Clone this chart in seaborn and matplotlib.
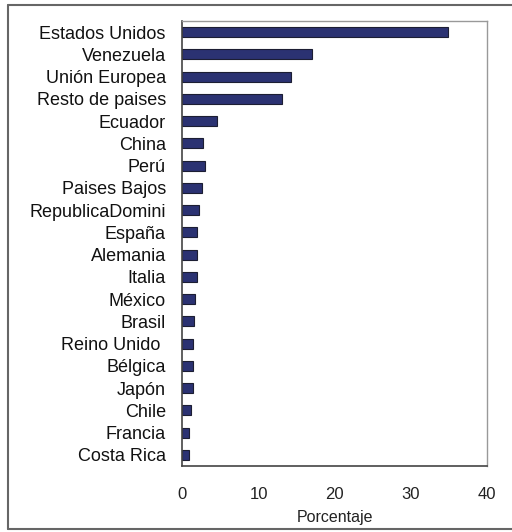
import matplotlib
matplotlib.use("Agg")
import matplotlib.pyplot as plt
from matplotlib.lines import Line2D
import seaborn as sns
import pandas as pd

paises = [
    "Estados Unidos", "Venezuela", "Unión Europea", "Resto de paises", "Ecuador",
    "China", "Perú", "Paises Bajos", "RepublicaDomini", "España",
    "Alemania", "Italia", "México", "Brasil", "Reino Unido ",
    "Bélgica", "Japón", "Chile", "Francia", "Costa Rica",
]
porcentaje = [
    34.9, 17.0, 14.2, 13.1, 4.5,
    2.7, 2.9, 2.6, 2.2, 1.95,
    1.9, 1.9, 1.65, 1.55, 1.4,
    1.4, 1.35, 1.1, 0.8, 0.8,
]
x_ticks = [0, 10, 20, 30, 40]

df = pd.DataFrame({"pais": paises, "porcentaje": porcentaje})

sns.set_theme(style="white")
plt.rcParams["font.family"] = ["Liberation Sans", "DejaVu Sans"]

fig = plt.figure(figsize=(5.12, 5.32), dpi=100)
ax = fig.add_axes([0.3564, 0.1241, 0.5947, 0.8365])

sns.barplot(
    data=df, y="pais", x="porcentaje", orient="h",
    color="#2b3272", edgecolor="#1c1e33", linewidth=0.8,
    width=0.45, saturation=1, ax=ax,
)

ax.set_xlim(0, 40)
ax.set_xticks(x_ticks)
ax.set_ylim(len(paises) - 0.5, -0.5)
ax.set_xlabel("Porcentaje", fontsize=11.5, color="#222222", labelpad=6)
ax.set_ylabel("")
ax.tick_params(axis="x", length=0, pad=15, labelsize=12, labelcolor="#222222")
ax.tick_params(axis="y", length=0, pad=12, labelsize=13, labelcolor="#111111")

for side in ["top", "right"]:
    ax.spines[side].set_color("#999999")
    ax.spines[side].set_linewidth(1.0)
for side in ["left", "bottom"]:
    ax.spines[side].set_color("#444444")
    ax.spines[side].set_linewidth(1.2)

# outer frame around the whole chart
frame_color = "#666666"
fig.add_artist(Line2D([8 / 512, 8 / 512], [1 - 5 / 532, 1 - 529 / 532],
                      transform=fig.transFigure, color=frame_color, lw=1.5))
fig.add_artist(Line2D([8 / 512, 1.0], [1 - 5 / 532, 1 - 5 / 532],
                      transform=fig.transFigure, color=frame_color, lw=1.5))
fig.add_artist(Line2D([8 / 512, 1.0], [1 - 529 / 532, 1 - 529 / 532],
                      transform=fig.transFigure, color=frame_color, lw=1.5))

fig.savefig("out.png", dpi=100)
